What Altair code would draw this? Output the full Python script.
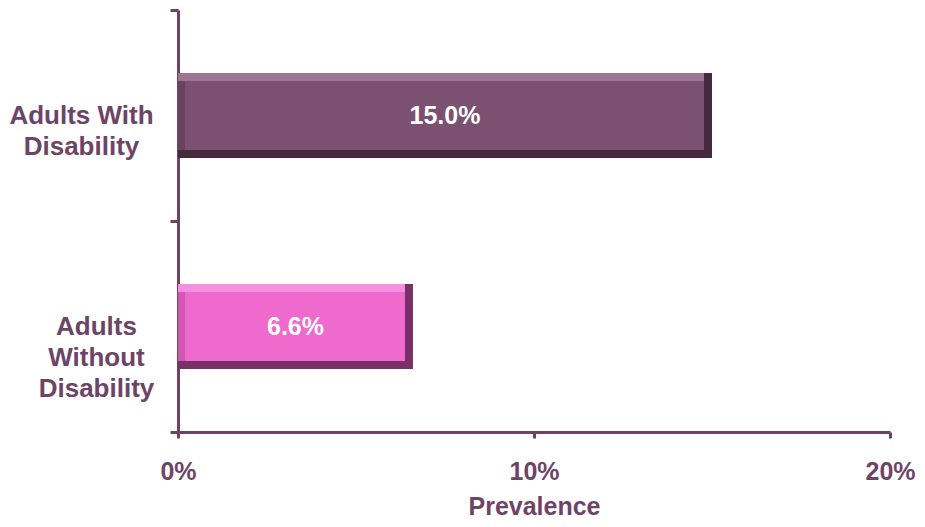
import altair as alt
import pandas as pd

categories = ["Adults With Disability", "Adults Without Disability"]
values = [15.0, 6.6]
main_colors = ["#7b5070", "#ee6acd"]
light_colors = ["#9d7592", "#f68fe2"]
left_colors = ["#6a4260", "#cf58b2"]
dark_colors = ["#45293f", "#7a2f68"]

df = pd.DataFrame({
    "cat": categories,
    "value": values,
    "start": [0.0] * len(values),
    "mid": [v / 2 for v in values],
    "text": [f"{v:.1f}%" for v in values],
    "main": main_colors,
    "light": light_colors,
    "left": left_colors,
    "dark": dark_colors,
})

AX = "#6e4466"
FONT = "Liberation Sans"
FS = 25

y_enc = alt.Y(
    "cat:N",
    sort=categories,
    title=None,
    scale=alt.Scale(paddingInner=0, paddingOuter=0),
    axis=alt.Axis(
        tickBand="extent",
        domainColor=AX, domainWidth=3,
        tickColor=AX, tickWidth=3, tickSize=8,
        labelColor=AX, labelFont=FONT, labelFontSize=26, labelFontWeight="bold",
        labelAlign="center", labelBaseline="middle", labelLineHeight=31,
        labelPadding={"condition": {"test": "indexof(datum.label, 'With ') >= 0", "value": 89}, "value": 74},
        labelExpr="split(replace(replace(datum.label, 'Adults With ', 'Adults With|'), 'Adults Without ', 'Adults|Without|'), '|')",
        labelLimit=400,
    ),
)

x_enc = alt.X(
    "start:Q",
    title="Prevalence",
    scale=alt.Scale(domain=[0, 20], nice=False),
    axis=alt.Axis(
        values=[0, 10, 20],
        labelExpr="datum.value + '%'",
        grid=False,
        domainColor=AX, domainWidth=3,
        tickColor=AX, tickWidth=3, tickSize=6,
        labelColor=AX, labelFont=FONT, labelFontSize=FS, labelFontWeight="bold",
        labelPadding=21, labelFlush=False,
        titleColor=AX, titleFont=FONT, titleFontSize=FS, titleFontWeight="bold",
        titlePadding=10,
    ),
)

base = alt.Chart(df)

dark = base.mark_bar(size=85).encode(
    y=y_enc, x=x_enc, x2="value:Q", color=alt.Color("dark:N", scale=None)
)
light = base.mark_bar(size=77, yOffset=-4, x2Offset=-8).encode(
    y=y_enc, x=x_enc, x2="value:Q", color=alt.Color("light:N", scale=None)
)
leftb = base.mark_bar(size=69, x2Offset=-8).encode(
    y=y_enc, x=x_enc, x2="value:Q", color=alt.Color("left:N", scale=None)
)
main = base.mark_bar(size=69, xOffset=7, x2Offset=-8).encode(
    y=y_enc, x=x_enc, x2="value:Q", color=alt.Color("main:N", scale=None)
)
txt = base.mark_text(color="white", font=FONT, fontSize=25, fontWeight="bold").encode(
    y=y_enc, x=alt.X("mid:Q"), text="text:N"
)

chart = alt.layer(dark, light, leftb, main, txt).properties(
    width=712, height=422,
    autosize=alt.AutoSizeParams(type="none"),
    padding={"left": 170, "top": 2, "right": 27, "bottom": 87},
).configure(background="white").configure_view(stroke=None)

chart.save("out.html", embed_options={"renderer": "svg", "actions": False})
